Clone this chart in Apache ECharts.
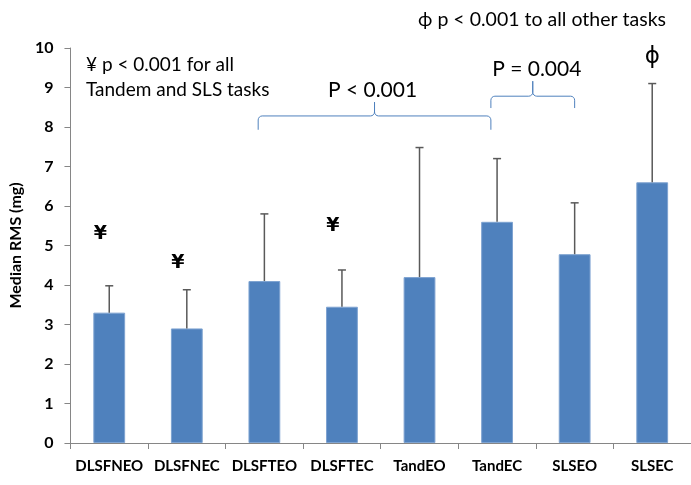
<!DOCTYPE html>
<html><head><meta charset="utf-8">
<script src="https://cdn.jsdelivr.net/npm/echarts@6/dist/echarts.min.js"></script>
<style>html,body{margin:0;padding:0;background:#fff}#c{width:691px;height:485px}</style>
</head><body><div id="c"></div>
<script>
var categories = ['DLSFNEO','DLSFNEC','DLSFTEO','DLSFTEC','TandEO','TandEC','SLSEO','SLSEC'];
var medians    = [3.3, 2.9, 4.1, 3.45, 4.2, 5.6, 4.78, 6.6];
var errTops    = [3.98, 3.88, 5.8, 4.38, 7.48, 7.2, 6.08, 9.1];
var yTicks     = [0,1,2,3,4,5,6,7,8,9,10];
// significance markers: [category index, y value, symbol]
var markers    = [[0, 5.28, '¥'], [1, 4.55, '¥'], [3, 5.5, '¥'], [7, 9.78, 'ϕ']];

var FONT = 'Lato, "Open Sans", sans-serif';
var chart = echarts.init(document.getElementById('c'));
var option = {
  animation: false,
  grid: {left: 70, right: -3, top: 48, bottom: 42},
  xAxis: {
    type: 'category', data: categories, boundaryGap: true,
    axisLine: {lineStyle: {color: '#868686'}},
    axisTick: {show: true, length: 6, lineStyle: {color: '#868686'}},
    axisLabel: {color: '#000', fontWeight: 'bold', fontSize: 15, fontFamily: FONT, margin: 16, interval: 0}
  },
  yAxis: {
    type: 'value', min: 0, max: 10, interval: 1,
    name: 'Median RMS (mg)', nameLocation: 'middle', nameGap: 42, nameRotate: 90,
    nameTextStyle: {color: '#000', fontWeight: 'bold', fontSize: 16, fontFamily: FONT},
    axisLine: {show: true, lineStyle: {color: '#868686'}},
    axisTick: {show: true, length: 6, lineStyle: {color: '#868686'}},
    splitLine: {show: false},
    axisLabel: {color: '#000', fontWeight: 'bold', fontSize: 16, fontFamily: FONT, margin: 17,
      formatter: function(v){ return yTicks.indexOf(v) >= 0 ? String(v) : ''; }}
  },
  series: [
    {type: 'bar', data: medians, barWidth: '41%',
     itemStyle: {color: '#4F81BD', borderColor: '#7EA3D1', borderWidth: 1}},
    {type: 'custom', data: categories.map(function(c,i){ return [i, medians[i], errTops[i]]; }),
     renderItem: function(params, api){
       var x = api.coord([api.value(0), api.value(1)])[0];
       var y0 = api.coord([api.value(0), api.value(1)])[1];
       var y1 = api.coord([api.value(0), api.value(2)])[1];
       var st = {stroke: '#595959', lineWidth: 1.5};
       return {type: 'group', children: [
         {type: 'line', shape: {x1: x, y1: y0, x2: x, y2: y1}, style: st},
         {type: 'line', shape: {x1: x - 4, y1: y1, x2: x + 4, y2: y1}, style: st}
       ]};
     }, z: 3},
    {type: 'custom', data: markers,
     renderItem: function(params, api){
       var p = api.coord([api.value(0), api.value(1)]);
       var sym = markers[params.dataIndex][2];
       var big = sym !== '¥';
       return {type: 'text', x: p[0] + (big ? 0 : -9), y: p[1], style: {
         text: sym, fill: '#000', font: (big ? '23px ' : 'bold 19px ') + '"DejaVu Sans", sans-serif',
         align: 'center', verticalAlign: 'middle'}};
     }, z: 4}
  ]
};
chart.setOption(option);

function px(ci, v){ return chart.convertToPixel({gridIndex: 0}, [ci, v]); }
function arc(cx, cy, r, a0, a1){
  var pts = [];
  for (var k = 0; k <= 4; k++){ var a = a0 + (a1 - a0) * k / 4; pts.push([cx + r * Math.cos(a), cy + r * Math.sin(a)]); }
  return pts;
}
function brace(xl, xr, yTop, yBottom, yTip){
  var xm = (xl + xr) / 2, r = 4, P = Math.PI;
  var pts = [[xl, yBottom]];
  pts = pts.concat(arc(xl + r, yTop + r, r, P, 1.5 * P));
  pts = pts.concat(arc(xm - r, yTop - r, r, 0.5 * P, 0));
  pts.push([xm, yTip]);
  var right = [[xm, yTip]].concat(arc(xm + r, yTop - r, r, P, 0.5 * P));
  right = right.concat(arc(xr - r, yTop + r, r, 1.5 * P, 2 * P));
  right.push([xr, yBottom]);
  return [pts, right];
}
var step = px(1, 0)[0] - px(0, 0)[0];
var b1l = px(2, 0)[0] - step * 0.08, b1r = px(5, 0)[0] - step * 0.08;
var b2l = b1r, b2r = px(6, 0)[0];
var yB1 = px(0, 8.28)[1], yB1t = px(0, 8.63)[1], yB1b = px(0, 7.93)[1];
var yB2 = px(0, 8.78)[1], yB2t = px(0, 9.16)[1], yB2b = px(0, 8.48)[1];
var br1 = brace(b1l, b1r, yB1, yB1b, yB1t), br2 = brace(b2l, b2r, yB2, yB2b, yB2t);
var bst = {stroke: '#4F81BD', fill: null, lineWidth: 1};
var tfont = '19px ' + FONT;
chart.setOption({graphic: [
  {type: 'polyline', shape: {points: br1[0]}, style: bst},
  {type: 'polyline', shape: {points: br1[1]}, style: bst},
  {type: 'polyline', shape: {points: br2[0]}, style: bst},
  {type: 'polyline', shape: {points: br2[1]}, style: bst},
  {type: 'text', x: (b1l + b1r) / 2 - 2, y: yB1t - 1, style: {text: 'P < 0.001', font: '21px ' + FONT, fill: '#000', align: 'center', verticalAlign: 'bottom'}},
  {type: 'text', x: (b2l + b2r) / 2 + 4, y: yB2t - 1, style: {text: 'P = 0.004', font: '21px ' + FONT, fill: '#000', align: 'center', verticalAlign: 'bottom'}},
  {type: 'text', x: 86, y: 65, style: {text: '¥ p < 0.001 for all', font: tfont, fill: '#000', verticalAlign: 'middle'}},
  {type: 'text', x: 86, y: 90, style: {text: 'Tandem and SLS tasks', font: tfont, fill: '#000', verticalAlign: 'middle'}},
  {type: 'text', x: 666, y: 20, style: {text: 'ϕ p < 0.001 to all other tasks', font: '19.5px ' + FONT, fill: '#000', align: 'right', verticalAlign: 'middle'}}
]});
</script></body></html>
